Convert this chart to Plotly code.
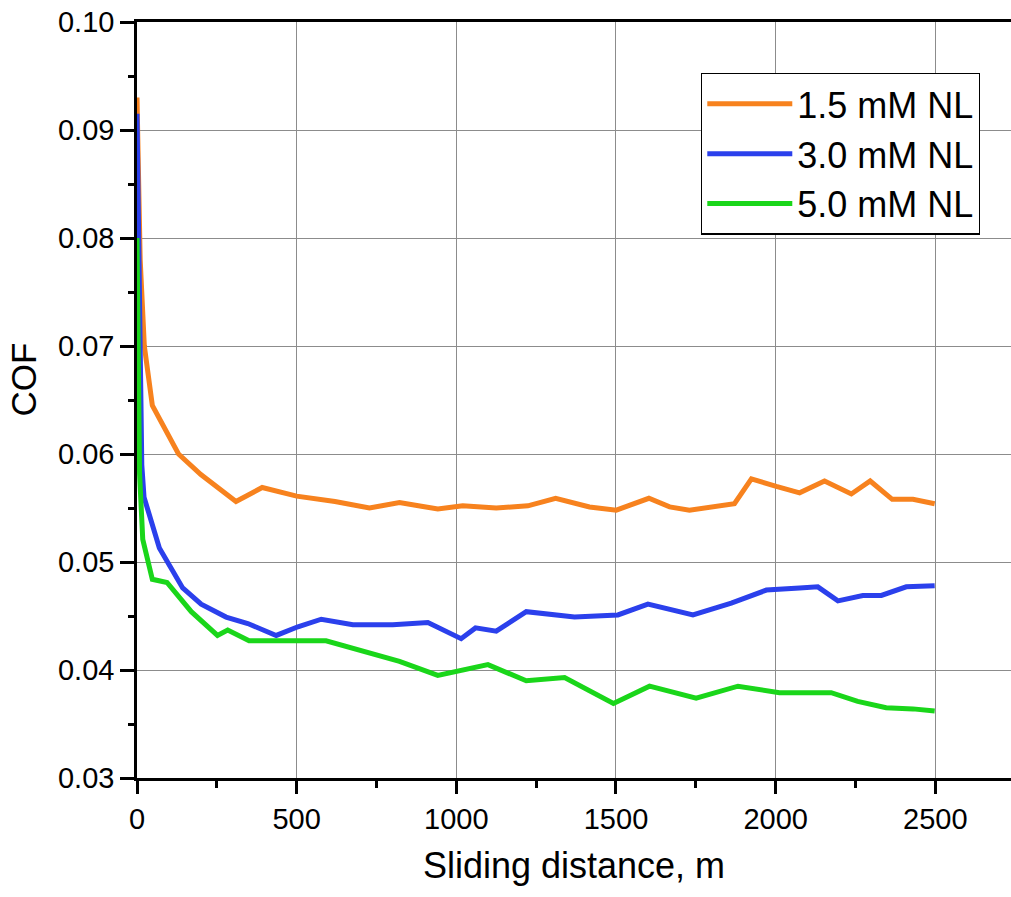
import plotly.graph_objects as go

# ---- data ----
x_15 = [0, 10, 23, 48, 130, 200, 310, 392, 500, 620, 728, 822, 942, 1020, 1125, 1224, 1311,
        1417, 1501, 1603, 1668, 1730, 1871, 1924, 2002, 2075, 2153, 2237, 2296, 2365, 2430, 2498]
cof_15 = [0.0930, 0.0780, 0.0700, 0.0645, 0.0600, 0.0581, 0.0556, 0.0569, 0.0561, 0.0556, 0.0550,
          0.0555, 0.0549, 0.0552, 0.0550, 0.0552, 0.0559, 0.0551, 0.0548, 0.0559, 0.0551, 0.0548,
          0.0554, 0.0577, 0.0570, 0.0564, 0.0575, 0.0563, 0.0575, 0.0558, 0.0558, 0.0554]

x_30 = [0, 6, 15, 22, 70, 143, 201, 279, 347, 436, 504, 577, 676, 801, 911, 1015, 1060, 1125,
        1219, 1370, 1506, 1600, 1741, 1861, 1971, 2075, 2132, 2195, 2273, 2331, 2409, 2498]
cof_30 = [0.0915, 0.0750, 0.0590, 0.0560, 0.0513, 0.0476, 0.0461, 0.0449, 0.0443, 0.0432, 0.0440,
          0.0447, 0.0442, 0.0442, 0.0444, 0.0429, 0.0439, 0.0436, 0.0454, 0.0449, 0.0451, 0.0461,
          0.0451, 0.0462, 0.0474, 0.0476, 0.0477, 0.0464, 0.0469, 0.0469, 0.0477, 0.0478]

x_50 = [0, 8, 18, 48, 94, 170, 252, 284, 351, 592, 822, 942, 1099, 1219, 1339, 1492, 1605,
        1751, 1882, 2012, 2075, 2174, 2257, 2346, 2430, 2498]
cof_50 = [0.0800, 0.0582, 0.0521, 0.0484, 0.0481, 0.0454, 0.0432, 0.0437, 0.0427, 0.0427, 0.0408,
          0.0395, 0.0405, 0.0390, 0.0393, 0.0369, 0.0385, 0.0374, 0.0385, 0.0379, 0.0379, 0.0379,
          0.0371, 0.0365, 0.0364, 0.0362]

names = ["1.5 mM NL", "3.0 mM NL", "5.0 mM NL"]
colors = ["#F7821E", "#2B40EC", "#1AD61A"]

FONT = "Arial, Liberation Sans, sans-serif"

fig = go.Figure()
for xs, ys, nm, col in zip([x_15, x_30, x_50], [cof_15, cof_30, cof_50], names, colors):
    fig.add_trace(go.Scatter(x=xs, y=ys, mode="lines", name=nm,
                             line=dict(color=col, width=5)))

fig.add_annotation(text="COF", xref="paper", yref="paper", x=-0.1293, y=0.527,
                   xanchor="center", yanchor="middle", textangle=-90, showarrow=False,
                   font=dict(size=35, family=FONT, color="black"))

fig.update_layout(
    width=1011, height=897,
    margin=dict(l=137, r=0, t=22, b=119),
    paper_bgcolor="white", plot_bgcolor="white",
    font=dict(family=FONT, color="black"),
    showlegend=True,
    legend=dict(x=0.6453, y=0.933, xanchor="left", yanchor="top",
                bgcolor="white", bordercolor="black", borderwidth=1.3,
                font=dict(size=36, family=FONT, color="black"),
                itemwidth=85, tracegroupgap=0),
    xaxis=dict(range=[0, 2737], tickmode="linear", tick0=0, dtick=500,
               showgrid=True, gridcolor="#8c8c8c", gridwidth=1.3,
               showline=True, linecolor="black", linewidth=2.5, mirror=True,
               ticks="outside", ticklen=13, tickwidth=2.5, tickcolor="black",
               tickfont=dict(size=29, family=FONT), zeroline=False,
               minor=dict(dtick=250, ticks="outside", ticklen=7, tickwidth=2.5,
                          tickcolor="black", showgrid=False),
               title=dict(text="Sliding distance, m", font=dict(size=36, family=FONT),
                          standoff=20)),
    yaxis=dict(range=[0.03, 0.10], tickmode="linear", tick0=0.03, dtick=0.01,
               tickformat=".2f",
               showgrid=True, gridcolor="#8c8c8c", gridwidth=1.3,
               showline=True, linecolor="black", linewidth=2.5,
               ticks="outside", ticklen=14, tickwidth=2.5, tickcolor="black",
               tickfont=dict(size=29, family=FONT), zeroline=False,
               ticklabelstandoff=0,
               minor=dict(dtick=0.005, ticks="outside", ticklen=6, tickwidth=2.5,
                          tickcolor="black", showgrid=False)),
    xaxis2=dict(overlaying="x", side="top", anchor="y", range=[0, 2487],
                tickmode="linear", tick0=0, dtick=500, showgrid=False,
                showline=False, showticklabels=False, zeroline=False,
                ticks="inside", ticklen=14, tickwidth=2.5, tickcolor="black",
                minor=dict(dtick=250, ticks="inside", ticklen=7, tickwidth=2.5,
                           tickcolor="black", showgrid=False)),
    yaxis2=dict(overlaying="y", side="right", anchor="x", range=[0, 5],
                tickmode="linear", tick0=0, dtick=1, showgrid=False,
                showline=False, showticklabels=False, zeroline=False,
                ticks="inside", ticklen=9, tickwidth=2.5, tickcolor="black",
                minor=dict(dtick=0.5, ticks="inside", ticklen=3, tickwidth=2.5,
                           tickcolor="black", showgrid=False)),
)

fig.write_html("out.html")
